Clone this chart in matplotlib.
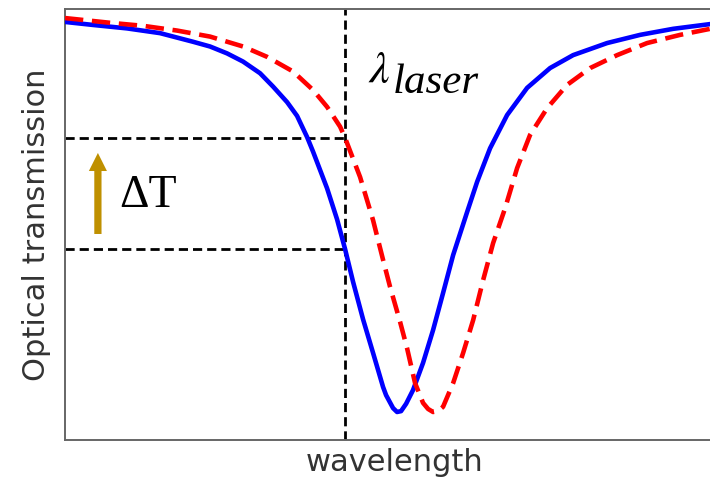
import matplotlib
matplotlib.use("Agg")
import matplotlib.pyplot as plt

# Resonance dip before (blue) and after (red) the shift
wl_blue = [0.000, 0.434, 0.961, 1.473, 1.984, 2.248, 2.512, 2.760, 3.023, 3.225, 3.442,
           3.597, 3.752, 3.845, 4.062, 4.217, 4.341, 4.465, 4.620, 4.775, 4.930, 4.977,
           5.085, 5.147, 5.209, 5.287, 5.395, 5.550, 5.705, 5.860, 6.016, 6.233, 6.388,
           6.589, 6.853, 7.163, 7.519, 7.876, 8.403, 8.915, 9.426, 10.000]
t_blue = [0.970, 0.963, 0.955, 0.944, 0.924, 0.913, 0.897, 0.878, 0.851, 0.820, 0.784,
          0.752, 0.703, 0.669, 0.584, 0.512, 0.443, 0.367, 0.280, 0.202, 0.123, 0.104,
          0.074, 0.065, 0.067, 0.084, 0.116, 0.179, 0.255, 0.341, 0.429, 0.529, 0.599,
          0.677, 0.754, 0.817, 0.863, 0.893, 0.921, 0.940, 0.954, 0.965]

wl_red = [0.000, 0.698, 1.209, 1.736, 2.248, 2.760, 3.132, 3.535, 3.845, 4.062, 4.264,
          4.341, 4.574, 4.775, 4.930, 5.039, 5.194, 5.302, 5.426, 5.550, 5.628, 5.705,
          5.783, 5.860, 6.016, 6.171, 6.326, 6.481, 6.636, 6.822, 7.008, 7.209, 7.473,
          7.783, 8.140, 8.558, 9.023, 9.535, 10.000]
t_red = [0.979, 0.968, 0.961, 0.950, 0.936, 0.913, 0.889, 0.855, 0.812, 0.773, 0.727,
         0.701, 0.610, 0.510, 0.418, 0.355, 0.274, 0.213, 0.132, 0.086, 0.072, 0.065,
         0.067, 0.077, 0.132, 0.202, 0.278, 0.371, 0.457, 0.538, 0.631, 0.708, 0.770,
         0.824, 0.863, 0.893, 0.921, 0.940, 0.954]

laser_wl = 4.341
t_high = 0.701
t_low = 0.443

plt.rcParams["mathtext.fontset"] = "stix"

fig = plt.figure(figsize=(7.1, 4.8), dpi=100)
ax = fig.add_axes([65 / 710, 40 / 480, 660 / 710, 431 / 480])

ax.plot(wl_blue, t_blue, color="#0000FF", lw=3.3, solid_joinstyle="round",
        solid_capstyle="round", zorder=3)
ax.plot(wl_red, t_red, color="#FF0000", lw=3.3, dashes=(4, 1.9),
        dash_joinstyle="round", zorder=4)

# laser wavelength and the two transmission levels it picks out
guide = dict(color="black", lw=2.0, dashes=(3.3, 1.8), zorder=2)
ax.axvline(laser_wl, **guide)
ax.plot([0, laser_wl], [t_high, t_high], **guide)
ax.plot([0, laser_wl], [t_low, t_low], **guide)

ax.annotate("", xy=(0.51, 0.666), xytext=(0.51, 0.478),
            arrowprops=dict(arrowstyle="simple,head_width=0.5,head_length=0.5,tail_width=0.2",
                            mutation_scale=26, color="#BF9000", shrinkA=0, shrinkB=0, lw=0))
ax.text(0.84, 0.541, "ΔT", fontsize=33, family="Liberation Serif", va="baseline", ha="left")

ax.text(4.70, 0.828, r"$\lambda$", fontsize=33, va="baseline", ha="left")
ax.text(5.08, 0.805, "laser", fontsize=31, family="Liberation Serif", style="italic",
        va="baseline", ha="left")

ax.set_xlim(0, 10.23)
ax.set_ylim(0, 1)
ax.set_xticks([])
ax.set_yticks([])
for sp in ax.spines.values():
    sp.set_color("#666666")
    sp.set_linewidth(1.4)
ax.spines["right"].set_visible(False)

ax.set_xlabel("wavelength", fontsize=22, color="#333333", labelpad=6)
ax.set_ylabel("Optical transmission", fontsize=22, color="#333333", labelpad=10)

fig.savefig("out.png", dpi=100)
